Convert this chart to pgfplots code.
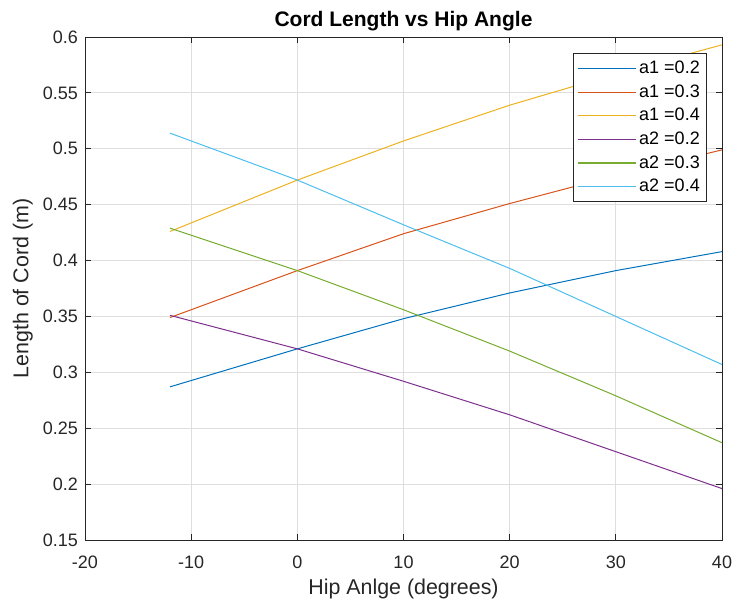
\documentclass[border=0pt]{standalone}
\usepackage{pgfplots}
\pgfplotsset{compat=1.18}
\usepackage{fontspec}
\setmainfont{Liberation Sans}
\definecolor{mblue}{rgb}{0,0.447,0.741}
\definecolor{morange}{rgb}{0.85,0.325,0.098}
\definecolor{myellow}{rgb}{0.929,0.694,0.125}
\definecolor{mpurple}{rgb}{0.494,0.184,0.556}
\definecolor{mgreen}{rgb}{0.466,0.674,0.188}
\definecolor{mcyan}{rgb}{0.301,0.745,0.933}
\definecolor{axgray}{rgb}{0.15,0.15,0.15}
\begin{document}
\begin{tikzpicture}
\begin{axis}[
  width=318.5pt, height=251.5pt, scale only axis,
  xmin=-20, xmax=40, ymin=0.15, ymax=0.6,
  xtick={-20,-10,0,10,20,30,40},
  ytick={0.15,0.2,0.25,0.3,0.35,0.4,0.45,0.5,0.55,0.6},
  grid=major,
  grid style={color=black!13, line width=0.4pt},
  axis line style={color=axgray, line width=0.45pt},
  tick align=inside,
  tick style={color=axgray, line width=0.45pt},
  major tick length=3pt,
  /pgf/number format/assume math mode=true,
  ticklabel style={font=\fontsize{9}{11}\selectfont, text=axgray},
  yticklabel style={/pgf/number format/fixed, /pgf/number format/precision=2},
  xticklabel style={yshift=-4.5pt},
  every axis title shift=0pt,
  title={Cord Length vs Hip Angle},
  title style={font=\fontsize{10.5}{12}\selectfont\bfseries, at={(axis description cs:0.5,1.0211)}, anchor=base},
  xlabel={Hip Anlge (degrees)},
  ylabel={Length of Cord (m)},
  label style={font=\fontsize{10.7}{12}\selectfont, text=axgray},
  xlabel style={at={(axis description cs:0.5,-0.1093)}, anchor=base},
  ylabel style={at={(axis description cs:-0.0889,0.5)}, anchor=base, rotate=0},
  legend style={at={(0.9765,0.968)}, anchor=north east, draw=axgray, line width=0.45pt,
    font=\fontsize{9}{11}\selectfont, fill=white,
    nodes={inner sep=1.4pt, text height=7pt, text depth=2pt},
    inner xsep=2pt, inner ysep=1.65pt},
  legend cell align=left,
  legend image code/.code={\draw[#1, line width=0.6pt] (0pt,0pt) -- (29pt,0pt);},
  every axis plot/.append style={line width=0.5pt},
]
\addplot[mblue] coordinates {(-12,0.287) (0,0.321) (10,0.348) (20,0.371) (30,0.391) (40,0.408)};
\addlegendentry{a1 =0.2}
\addplot[morange] coordinates {(-12,0.349) (0,0.391) (10,0.424) (20,0.451) (30,0.476) (40,0.499)};
\addlegendentry{a1 =0.3}
\addplot[myellow] coordinates {(-12,0.426) (0,0.472) (10,0.507) (20,0.539) (30,0.567) (40,0.593)};
\addlegendentry{a1 =0.4}
\addplot[mpurple] coordinates {(-12,0.351) (0,0.321) (10,0.292) (20,0.262) (30,0.229) (40,0.196)};
\addlegendentry{a2 =0.2}
\addplot[mgreen] coordinates {(-12,0.429) (0,0.391) (10,0.356) (20,0.319) (30,0.279) (40,0.237)};
\addlegendentry{a2 =0.3}
\addplot[mcyan] coordinates {(-12,0.514) (0,0.472) (10,0.432) (20,0.393) (30,0.350) (40,0.307)};
\addlegendentry{a2 =0.4}
\end{axis}
\pgfresetboundingbox
\path[use as bounding box] ([xshift=-42.5pt,yshift=-31pt]current axis.south west) rectangle ([xshift=6.5pt,yshift=18.5pt]current axis.north east);
\end{tikzpicture}
\end{document}
